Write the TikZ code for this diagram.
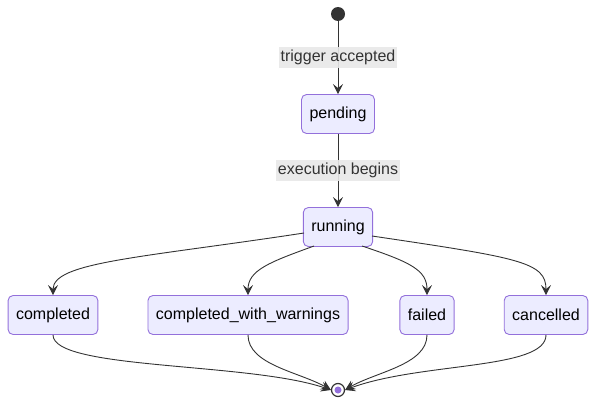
\documentclass[tikz,border=0pt]{standalone}
\usepackage{fontspec}
\setmainfont{Liberation Sans}
\usetikzlibrary{arrows.meta}
\definecolor{nodefill}{HTML}{ECECFF}
\definecolor{nodedraw}{HTML}{9370DB}
\definecolor{edgecol}{HTML}{333333}
\definecolor{lblfill}{HTML}{E8E8E8}
\tikzset{
  state/.style={draw=nodedraw, fill=nodefill, rounded corners=5pt, line width=0.9pt,
    minimum height=39pt, inner xsep=8pt, inner ysep=0pt, font=\fontsize{16}{19}\selectfont, text=black},
  edge/.style={draw=edgecol, line width=0.9pt, -{Stealth[length=10pt,width=10pt,inset=4pt]}},
  plain/.style={draw=edgecol, line width=0.9pt},
  lbl/.style={fill=lblfill, fill opacity=0.9, text opacity=1, inner xsep=2pt, minimum height=21pt,
    inner ysep=0pt, font=\fontsize{16}{19}\selectfont, text=edgecol},
}
\begin{document}
\begin{tikzpicture}[x=1pt,y=-1pt]
\useasboundingbox (0,0) rectangle (604,412);
\node[circle, fill=edgecol, minimum size=14pt, inner sep=0pt] (start) at (338,14) {};
\node[state] (pending) at (338,114) {pending};
\node[state] (running) at (338,227) {running};
\node[state] (completed) at (53,315) {completed};
\node[state] (cww) at (248,315) {completed\_with\_warnings};
\node[state] (failed) at (427,315) {failed};
\node[state] (cancelled) at (546,315) {cancelled};
\node[circle, draw=edgecol, fill=white, line width=1.2pt, minimum size=13pt, inner sep=0pt] (end) at (338,390) {};
\node[circle, fill=nodedraw, minimum size=7pt, inner sep=0pt] (endin) at (end) {};

\draw[edge] (start) -- node[lbl] {trigger accepted} (pending);
\draw[edge] (pending) -- node[lbl] {execution begins} (running);

\coordinate (r1) at (304,233);
\coordinate (r2) at (314,246);
\coordinate (r3) at (362,246);
\coordinate (r4) at (372,236);
\draw[edge] (r1) .. controls (140,258) and (53,262) .. (completed.north);
\draw[edge] (r2) .. controls (270,262) and (248,270) .. (cww.north);
\draw[edge] (r3) .. controls (410,262) and (427,270) .. (failed.north);
\draw[edge] (r4) .. controls (520,258) and (546,262) .. (cancelled.north);

\draw[edge] (completed.south) .. controls (53,370) and (250,362) .. (end.west);
\draw[edge] (cww.south) .. controls (248,365) and (300,372) .. (end.west);
\draw[edge] (failed.south) .. controls (427,365) and (375,372) .. (end.east);
\draw[edge] (cancelled.south) .. controls (546,370) and (420,362) .. (end.east);
\end{tikzpicture}
\end{document}
